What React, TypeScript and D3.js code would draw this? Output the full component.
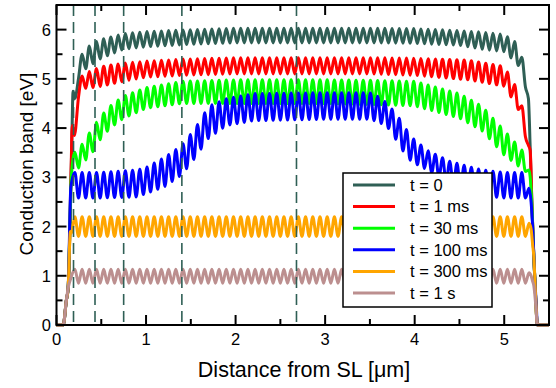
import React, { useEffect, useRef } from 'react';
import * as d3 from 'd3';

// Tick values and labels
const xTicks = [0, 1, 2, 3, 4, 5];
const yTicks = [0, 1, 2, 3, 4, 5, 6];
const markerLines = [0.19, 0.43, 0.75, 1.4, 2.68];

// superlattice period (peak spacing) and position of the first peak, in µm
const slPeriod = 0.0805;
const slFirstPeak = 0.125;

const labels = ['t = 0', 't = 1 ms', 't = 30 ms', 't = 100 ms', 't = 300 ms', 't = 1 s'];
const colors = ['#2f5f55', '#ff0000', '#00ff00', '#0000ff', '#ffa500', '#bc8f8f'];

// envelope knots: x [µm], lower / upper envelope [eV]
const xs0 = [0, 0.075, 0.11, 0.13, 0.17, 0.185, 0.205, 0.25, 0.3, 0.4, 0.5, 0.75, 1.0, 1.5, 2.0, 3.5, 4.0, 4.5, 4.75, 5.0, 5.15, 5.22, 5.27, 5.29, 5.31, 5.33, 5.35, 5.37, 5.5];
const lo0 = [0, 0, 0.5, 0.75, 3.6, 4.75, 4.6, 5.05, 5.17, 5.3, 5.42, 5.6, 5.65, 5.7, 5.73, 5.73, 5.72, 5.68, 5.6, 5.55, 5.3, 4.95, 4.6, 3.6, 2.4, 1.4, 0.6, 0, 0];
const hi0 = [0, 0, 0.5, 0.75, 3.6, 4.75, 4.6, 5.35, 5.56, 5.72, 5.8, 5.92, 5.96, 6.0, 6.03, 6.03, 6.02, 5.98, 5.95, 5.9, 5.72, 5.3, 4.6, 3.6, 2.4, 1.4, 0.6, 0, 0];

const xs1 = [0, 0.075, 0.11, 0.13, 0.175, 0.2, 0.25, 0.3, 0.5, 0.75, 1.0, 1.4, 2.0, 3.5, 4.0, 4.6, 5.0, 5.15, 5.24, 5.27, 5.29, 5.31, 5.33, 5.35, 5.37, 5.5];
const lo1 = [0, 0, 0.5, 0.75, 4.05, 3.85, 4.7, 4.8, 4.85, 4.95, 5.03, 5.07, 5.1, 5.1, 5.07, 4.98, 4.85, 4.42, 3.8, 3.65, 3.55, 2.4, 1.4, 0.6, 0, 0];
const hi1 = [0, 0, 0.5, 0.75, 4.05, 3.85, 4.95, 5.1, 5.25, 5.32, 5.36, 5.4, 5.43, 5.43, 5.42, 5.38, 5.25, 4.78, 4.15, 3.65, 3.55, 2.4, 1.4, 0.6, 0, 0];

const xs2 = [0, 0.075, 0.11, 0.13, 0.165, 0.2, 0.3, 0.4, 0.5, 0.6, 0.75, 1.0, 1.4, 2.0, 3.0, 3.5, 4.0, 4.5, 4.75, 5.0, 5.25, 5.29, 5.31, 5.33, 5.35, 5.37, 5.5];
const lo2 = [0, 0, 0.5, 0.75, 3.0, 3.1, 3.3, 3.5, 3.8, 4.0, 4.2, 4.4, 4.5, 4.5, 4.5, 4.48, 4.45, 4.2, 3.95, 3.45, 3.1, 3.0, 2.4, 1.4, 0.6, 0, 0];
const hi2 = [0, 0, 0.5, 0.75, 3.0, 3.5, 3.7, 4.0, 4.25, 4.45, 4.65, 4.82, 4.95, 4.98, 4.98, 4.97, 4.95, 4.7, 4.45, 3.95, 3.45, 3.0, 2.4, 1.4, 0.6, 0, 0];

const xs3 = [0, 0.075, 0.11, 0.13, 0.16, 0.2, 0.5, 0.9, 1.0, 1.2, 1.4, 1.55, 1.7, 1.9, 2.2, 3.0, 3.5, 3.62, 3.73, 3.84, 3.96, 4.14, 4.4, 4.75, 5.0, 5.25, 5.3, 5.32, 5.34, 5.37, 5.5];
const lo3 = [0, 0, 0.5, 0.75, 2.8, 2.58, 2.58, 2.6, 2.67, 2.8, 3.05, 3.4, 3.8, 4.05, 4.15, 4.18, 4.18, 4.1, 3.96, 3.6, 3.32, 3.15, 2.85, 2.62, 2.58, 2.58, 2.5, 1.9, 1.0, 0, 0];
const hi3 = [0, 0, 0.5, 0.75, 2.8, 3.1, 3.1, 3.15, 3.2, 3.4, 3.65, 4.0, 4.45, 4.6, 4.7, 4.72, 4.72, 4.62, 4.43, 4.17, 3.82, 3.55, 3.32, 3.15, 3.1, 3.1, 2.5, 1.9, 1.0, 0, 0];

const xs4 = [0, 0.075, 0.11, 0.13, 0.155, 0.18, 5.25, 5.3, 5.33, 5.35, 5.37, 5.5];
const lo4 = [0, 0, 0.5, 0.75, 1.9, 1.8, 1.8, 1.95, 1.4, 0.6, 0, 0];
const hi4 = [0, 0, 0.5, 0.75, 1.9, 2.2, 2.2, 1.95, 1.4, 0.6, 0, 0];

const xs5 = [0, 0.075, 0.11, 0.13, 0.16, 0.18, 5.25, 5.3, 5.33, 5.35, 5.37, 5.5];
const lo5 = [0, 0, 0.5, 0.75, 0.95, 0.85, 0.85, 1.0, 0.8, 0.45, 0, 0];
const hi5 = [0, 0, 0.5, 0.75, 0.95, 1.13, 1.13, 1.0, 0.8, 0.45, 0, 0];

const envelopes = [
  [xs0, lo0, hi0],
  [xs1, lo1, hi1],
  [xs2, lo2, hi2],
  [xs3, lo3, hi3],
  [xs4, lo4, hi4],
  [xs5, lo5, hi5],
];

// Peaks take the upper envelope, troughs the lower one; flat knots are kept as is
const buildPoints = (xs: number[], lo: number[], hi: number[]) => {
  const loS = d3.scaleLinear().domain(xs).range(lo).clamp(true);
  const hiS = d3.scaleLinear().domain(xs).range(hi).clamp(true);
  const pts: [number, number][] = [];
  xs.forEach((x, i) => {
    if (lo[i] === hi[i]) pts.push([x, lo[i]]);
  });
  const half = slPeriod / 2;
  const n = Math.floor((xs[xs.length - 1] - slFirstPeak) / half);
  for (let k = 0; k <= n; k++) {
    const x = slFirstPeak + k * half;
    if (pts.some(p => Math.abs(p[0] - x) < 0.008)) continue;
    pts.push([x, k % 2 === 0 ? hiS(x) : loS(x)]);
  }
  return pts.sort((a, b) => a[0] - b[0]);
};

const App = () => {
  const ref = useRef<SVGSVGElement>(null);
  const width = 556;
  const height = 388;
  const plot = { left: 56.5, right: 549, top: 5, bottom: 325 };
  const font = '"Liberation Sans", Arial, Helvetica, sans-serif';

  const drawGraph = () => {
    const svg = d3.select(ref.current);
    svg.selectAll('*').remove();

    const xScale = d3.scaleLinear().domain([0, 5.5]).range([plot.left, plot.right]);
    const yScale = d3.scaleLinear().domain([0, 6.5]).range([plot.bottom, plot.top]);

    svg.append('rect')
      .attr('width', width).attr('height', height).attr('fill', '#fff');

    // Curves
    const line = d3.line<[number, number]>()
      .x(d => xScale(d[0]))
      .y(d => yScale(d[1]))
      .curve(d3.curveMonotoneX);

    const plotArea = svg.append('g');
    envelopes.forEach(([xs, lo, hi], i) => {
      plotArea.append('path')
        .attr('d', line(buildPoints(xs, lo, hi)))
        .attr('fill', 'none')
        .attr('stroke', colors[i])
        .attr('stroke-width', 3)
        .attr('stroke-linejoin', 'round');
    });

    // Dashed marker lines
    plotArea.selectAll('line.marker')
      .data(markerLines)
      .enter()
      .append('line')
      .attr('x1', d => xScale(d)).attr('x2', d => xScale(d))
      .attr('y1', plot.top).attr('y2', plot.bottom)
      .attr('stroke', '#2f5f55')
      .attr('stroke-width', 1.6)
      .attr('stroke-dasharray', '11,6');

    // Ticks on all four sides, pointing inward
    const xMinor = d3.range(0.5, 5.51, 1);
    const yMinor = d3.range(0.5, 6.51, 1);
    const tickG = svg.append('g').attr('stroke', '#000').attr('stroke-width', 2);
    const xt = [...xTicks.map(v => [v, 10]), ...xMinor.map(v => [v, 6])];
    const yt = [...yTicks.map(v => [v, 10]), ...yMinor.map(v => [v, 6])];
    xt.forEach(([v, len]) => {
      tickG.append('line').attr('x1', xScale(v)).attr('x2', xScale(v))
        .attr('y1', plot.bottom).attr('y2', plot.bottom - len);
      tickG.append('line').attr('x1', xScale(v)).attr('x2', xScale(v))
        .attr('y1', plot.top).attr('y2', plot.top + len);
    });
    yt.forEach(([v, len]) => {
      tickG.append('line').attr('y1', yScale(v)).attr('y2', yScale(v))
        .attr('x1', plot.left).attr('x2', plot.left + len);
      tickG.append('line').attr('y1', yScale(v)).attr('y2', yScale(v))
        .attr('x1', plot.right).attr('x2', plot.right - len);
    });

    // Frame
    svg.append('rect')
      .attr('x', plot.left).attr('y', plot.top)
      .attr('width', plot.right - plot.left).attr('height', plot.bottom - plot.top)
      .attr('fill', 'none').attr('stroke', '#000').attr('stroke-width', 2);

    // Tick labels
    svg.append('g').selectAll('text')
      .data(xTicks).enter().append('text')
      .attr('x', d => xScale(d)).attr('y', 345)
      .attr('text-anchor', 'middle')
      .attr('font-family', font).attr('font-size', 16.5)
      .text(d => d);

    svg.append('g').selectAll('text')
      .data(yTicks).enter().append('text')
      .attr('x', 51).attr('y', d => yScale(d) + 6)
      .attr('text-anchor', 'end')
      .attr('font-family', font).attr('font-size', 16.5)
      .text(d => d);

    // Axis titles
    svg.append('text')
      .attr('x', 304).attr('y', 377)
      .attr('text-anchor', 'middle')
      .attr('font-family', font).attr('font-size', 21.5)
      .text('Distance from SL [\u03bcm]');

    svg.append('text')
      .attr('transform', 'translate(33,164) rotate(-90)')
      .attr('text-anchor', 'middle')
      .attr('font-family', font).attr('font-size', 19)
      .text('Conduction band [eV]');

    // Legend
    const legend = svg.append('g');
    legend.append('rect')
      .attr('x', 343).attr('y', 173).attr('width', 149).attr('height', 134)
      .attr('fill', '#fff').attr('stroke', '#000').attr('stroke-width', 1.5);
    labels.forEach((label, i) => {
      const y = 185 + i * 21.6;
      legend.append('line')
        .attr('x1', 353).attr('x2', 395).attr('y1', y).attr('y2', y)
        .attr('stroke', colors[i]).attr('stroke-width', 3);
      legend.append('text')
        .attr('x', 410).attr('y', y + 5.7)
        .attr('font-family', font).attr('font-size', 16.5)
        .text(label);
    });
  };

  useEffect(() => {
    drawGraph();
  });

  return (
    <svg
      ref={ref}
      width={width}
      height={height}
      style={{ position: 'absolute', left: 0, top: 0 }}
    />
  );
};

export default App;
